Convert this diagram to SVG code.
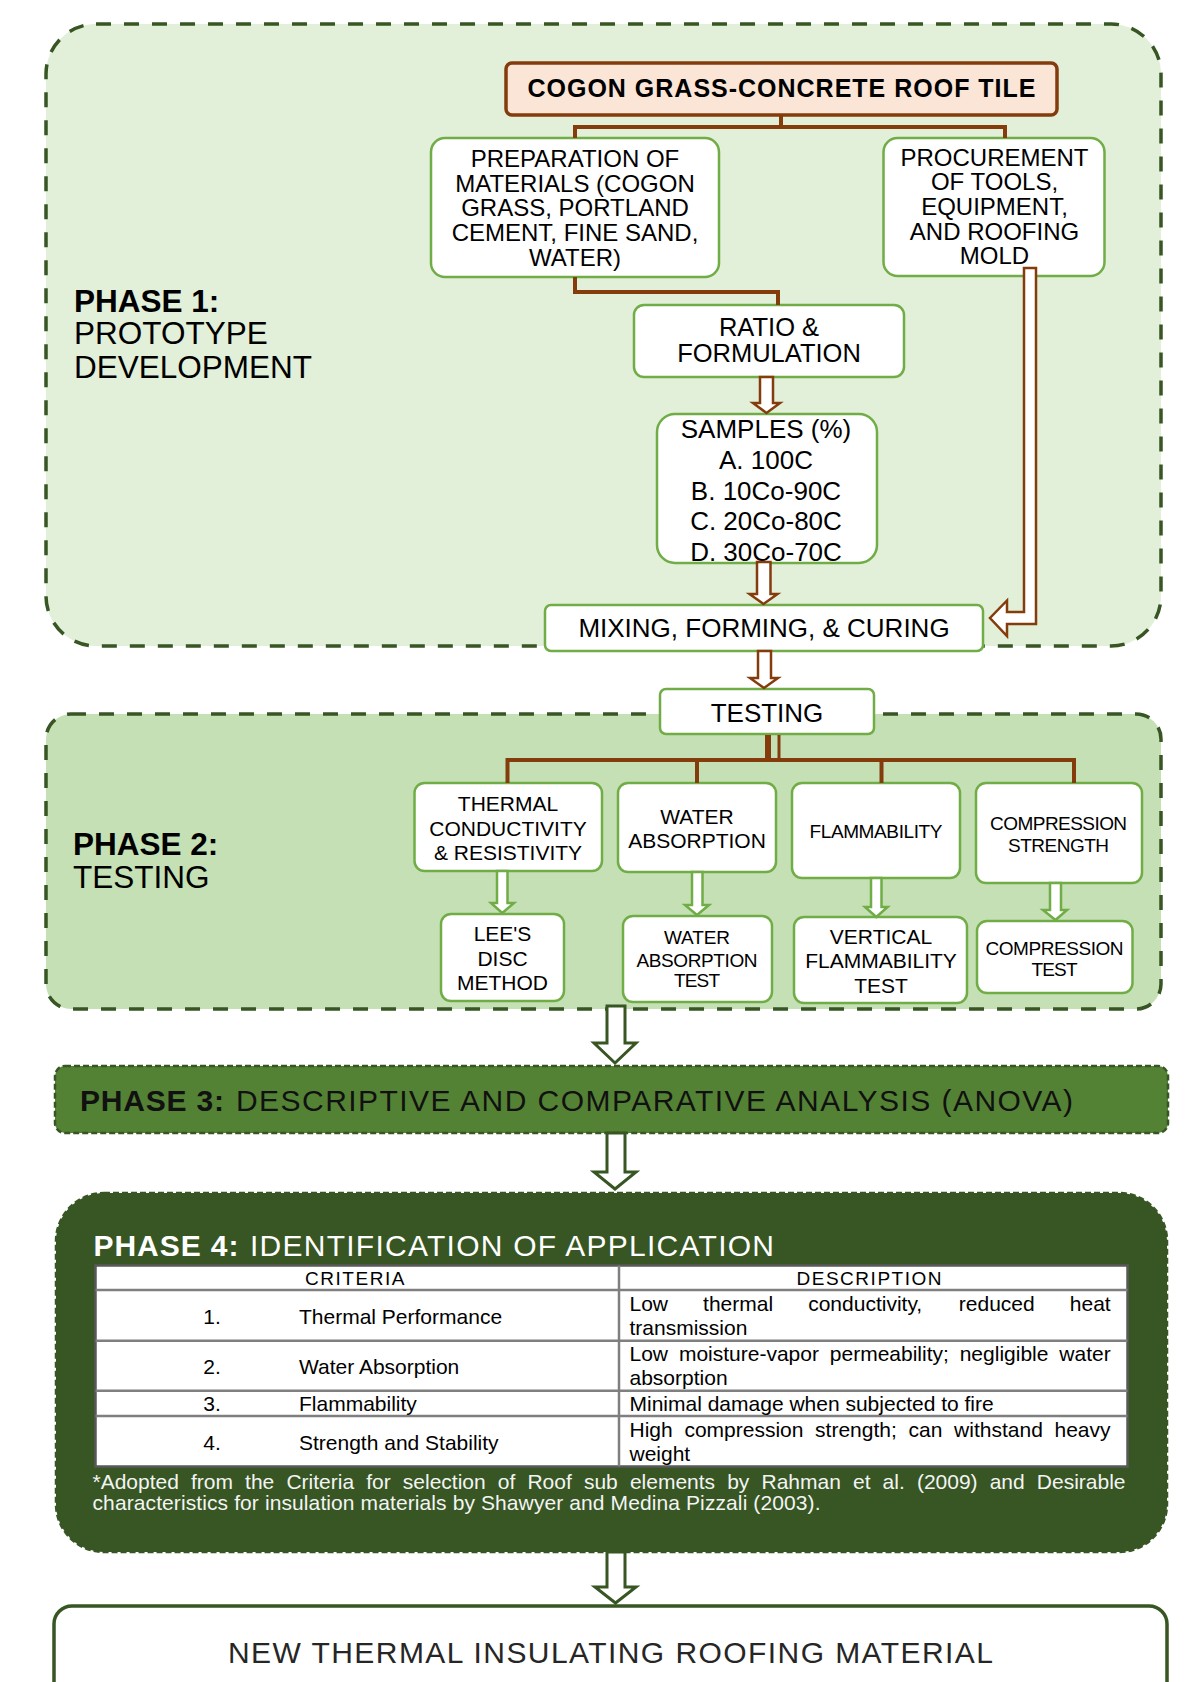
<svg xmlns="http://www.w3.org/2000/svg" width="1193" height="1682" viewBox="0 0 1193 1682">
<style>
text{font-family:"Liberation Sans",Arial,sans-serif;fill:#000}
.b{font-weight:bold}
.box{fill:#fff;stroke:#70ad47;stroke-width:2.5}
.phd{stroke:#375623;stroke-width:3.5;stroke-dasharray:15 13}
.tree{fill:none;stroke:#843c0c;stroke-width:4}
.ab{fill:#fff;stroke:#843c0c;stroke-width:2.5;stroke-linejoin:miter}
.ag{fill:#fff;stroke:#70ad47;stroke-width:2.5}
.ad{fill:#fff;stroke:#375623;stroke-width:3}
.c24{font-size:24px;text-anchor:middle}
.c26{font-size:26px;text-anchor:middle}
.c21{font-size:21px;text-anchor:middle}
.c19{font-size:19px;text-anchor:middle}
.ph{font-size:31.5px}
.tl{fill:#7f7f7f;stroke:#7f7f7f;stroke-width:2.5}
.t21{font-size:21px}
.w{fill:#f4f4f4}
</style>
<rect width="1193" height="1682" fill="#fff"/>

<g id="phase1">
<rect x="46" y="24" width="1115" height="622" rx="50" fill="#e2efd9" class="phd"/>
<text class="ph b" x="74" y="311.7">PHASE 1:</text>
<text class="ph" x="74" y="344.3">PROTOTYPE</text>
<text class="ph" x="74" y="377.7">DEVELOPMENT</text>
</g>

<g id="phase2">
<rect x="46" y="714" width="1115" height="295" rx="25" fill="#c5e0b4" class="phd"/>
<text class="ph b" x="73" y="855">PHASE 2:</text>
<text class="ph" x="73" y="888">TESTING</text>
</g>

<g id="phase3">
<rect x="55" y="1066" width="1113" height="67" rx="10" fill="#548235" stroke="#375623" stroke-width="2.5" stroke-dasharray="6 3"/>
<text class="b" x="80" y="1111" font-size="30" textLength="144" lengthAdjust="spacing" style="fill:#111">PHASE 3:</text>
<text x="236" y="1111" font-size="30" textLength="837" lengthAdjust="spacing" style="fill:#111">DESCRIPTIVE AND COMPARATIVE ANALYSIS (ANOVA)</text>
</g>

<g id="phase4">
<rect x="56" y="1193" width="1111" height="359" rx="48" fill="#375623" stroke="#375623" stroke-width="2.5" stroke-dasharray="6 3"/>
<text class="b" x="93.5" y="1256" font-size="30" textLength="145" lengthAdjust="spacing" style="fill:#fff">PHASE 4:</text>
<text x="250" y="1256" font-size="30" textLength="524" lengthAdjust="spacing" style="fill:#fff">IDENTIFICATION OF APPLICATION</text>
<g id="criteria-table">
<rect x="95.5" y="1265.5" width="1032" height="201" fill="#fff" stroke="#595959" stroke-width="2.5"/>
<path class="tl" fill="none" d="M95.5 1290H1127.5M95.5 1340.7H1127.5M95.5 1390.7H1127.5M95.5 1416H1127.5M619 1265.5V1466.5"/>
<text class="c19" x="354.7" y="1285" textLength="99.5" lengthAdjust="spacing">CRITERIA</text>
<text class="c19" x="869" y="1285" textLength="145" lengthAdjust="spacing">DESCRIPTION</text>
<text class="c21" x="212" y="1324">1.</text>
<text class="t21" x="299" y="1324">Thermal Performance</text>
<text class="c21" x="212" y="1374">2.</text>
<text class="t21" x="299" y="1374">Water Absorption</text>
<text class="c21" x="212" y="1411">3.</text>
<text class="t21" x="299" y="1411">Flammability</text>
<text class="c21" x="212" y="1450">4.</text>
<text class="t21" x="299" y="1450">Strength and Stability</text>
<text class="t21" y="1311"><tspan x="629.5">Low</tspan><tspan x="703.1">thermal</tspan><tspan x="808.2">conductivity,</tspan><tspan x="958.8">reduced</tspan><tspan x="1069.8">heat</tspan></text>
<text class="t21" x="629.5" y="1335">transmission</text>
<text class="t21" y="1361"><tspan x="629.5">Low</tspan><tspan x="678.9">moisture-vapor</tspan><tspan x="829.8">permeability;</tspan><tspan x="959.7">negligible</tspan><tspan x="1059.3">water</tspan></text>
<text class="t21" x="629.5" y="1385">absorption</text>
<text class="t21" x="629.5" y="1411">Minimal damage when subjected to fire</text>
<text class="t21" y="1437"><tspan x="629.5">High</tspan><tspan x="684.4">compression</tspan><tspan x="815.1">strength;</tspan><tspan x="908.5">can</tspan><tspan x="954.1">withstand</tspan><tspan x="1054.5">heavy</tspan></text>
<text class="t21" x="629.5" y="1461">weight</text>
</g>
<text class="t21 w" y="1489"><tspan x="92.5">*Adopted</tspan><tspan x="191">from</tspan><tspan x="245.1">the</tspan><tspan x="286.4">Criteria</tspan><tspan x="366.2">for</tspan><tspan x="402.8">selection</tspan><tspan x="497.8">of</tspan><tspan x="527.4">Roof</tspan><tspan x="583.9">sub</tspan><tspan x="629.9">elements</tspan><tspan x="727.2">by</tspan><tspan x="761.5">Rahman</tspan><tspan x="853">et</tspan><tspan x="882.6">al.</tspan><tspan x="916.9">(2009)</tspan><tspan x="989.7">and</tspan><tspan x="1036.8">Desirable</tspan></text>
<text class="t21 w" x="92.5" y="1510" textLength="728" lengthAdjust="spacing">characteristics for insulation materials by Shawyer and Medina Pizzali (2003).</text>
</g>

<g id="final">
<rect x="54" y="1606" width="1113" height="110" rx="18" fill="#fff" stroke="#375623" stroke-width="3.5"/>
<text x="228" y="1663" font-size="30" textLength="765" lengthAdjust="spacing" style="fill:#262626">NEW THERMAL INSULATING ROOFING MATERIAL</text>
</g>

<g id="n-title">
<rect x="506" y="63" width="551" height="52" rx="6" fill="#fbe5d6" stroke="#843c0c" stroke-width="3.5"/>
<text class="b" x="527.5" y="96.7" font-size="25" textLength="508" lengthAdjust="spacing">COGON GRASS-CONCRETE ROOF TILE</text>
</g>
<g id="n-prep">
<rect class="box" x="431" y="138" width="288" height="139" rx="14"/>
<text class="c24"><tspan x="575" y="166.8">PREPARATION OF</tspan><tspan x="575" y="191.5">MATERIALS (COGON</tspan><tspan x="575" y="216.2">GRASS, PORTLAND</tspan><tspan x="575" y="240.9">CEMENT, FINE SAND,</tspan><tspan x="575" y="265.6">WATER)</tspan></text>
</g>
<g id="n-proc">
<rect class="box" x="883.5" y="138" width="221" height="138" rx="14"/>
<text class="c24"><tspan x="994.5" y="165.6">PROCUREMENT</tspan><tspan x="994.5" y="190.3">OF TOOLS,</tspan><tspan x="994.5" y="215">EQUIPMENT,</tspan><tspan x="994.5" y="239.7">AND ROOFING</tspan><tspan x="994.5" y="264.4">MOLD</tspan></text>
</g>
<g id="n-ratio">
<rect class="box" x="634" y="305" width="270" height="72" rx="10"/>
<text class="c26" style="font-size:25.5px"><tspan x="769" y="335.7">RATIO &amp;</tspan><tspan x="769" y="362.4">FORMULATION</tspan></text>
</g>
<g id="n-samples">
<rect class="box" x="657" y="414" width="220" height="149" rx="18"/>
<text class="c26"><tspan x="766" y="438.3">SAMPLES (%)</tspan><tspan x="766" y="468.9">A. 100C</tspan><tspan x="766" y="499.5">B. 10Co-90C</tspan><tspan x="766" y="530.1">C. 20Co-80C</tspan><tspan x="766" y="560.7">D. 30Co-70C</tspan></text>
</g>
<g id="n-mixing">
<rect class="box" x="545" y="605" width="438" height="46" rx="6"/>
<text class="c26" x="764" y="637.3">MIXING, FORMING, &amp; CURING</text>
</g>
<g id="n-testing">
<rect class="box" x="660" y="689" width="214" height="45" rx="6"/>
<text class="c26" x="767" y="721.7">TESTING</text>
</g>
<g id="n-thermal">
<rect class="box" x="414.5" y="783" width="187.5" height="88" rx="10"/>
<text class="c21"><tspan x="508" y="811">THERMAL</tspan><tspan x="508" y="835.5">CONDUCTIVITY</tspan><tspan x="508" y="860">&amp; RESISTIVITY</tspan></text>
</g>
<g id="n-water">
<rect class="box" x="618" y="783" width="158" height="89" rx="10"/>
<text class="c21"><tspan x="697" y="824.3">WATER</tspan><tspan x="697" y="847.7">ABSORPTION</tspan></text>
</g>
<g id="n-flamm">
<rect class="box" x="792" y="783" width="168" height="95" rx="10"/>
<text class="c19" x="876" y="838.3" textLength="133" lengthAdjust="spacing">FLAMMABILITY</text>
</g>
<g id="n-compr">
<rect class="box" x="976" y="783" width="166" height="100" rx="10"/>
<text class="c19" x="1058.6" y="830" textLength="137" lengthAdjust="spacing">COMPRESSION</text>
<text class="c19" x="1058.6" y="851.7" textLength="101" lengthAdjust="spacing">STRENGTH</text>
</g>
<g id="n-lees">
<rect class="box" x="441" y="914" width="123" height="87" rx="10"/>
<text class="c21"><tspan x="502.5" y="941">LEE'S</tspan><tspan x="502.5" y="965.7">DISC</tspan><tspan x="502.5" y="990">METHOD</tspan></text>
</g>
<g id="n-watertest">
<rect class="box" x="623" y="916" width="149" height="86" rx="10"/>
<text class="c19" x="697" y="944.3" textLength="66" lengthAdjust="spacing">WATER</text>
<text class="c19" x="697" y="966.7" textLength="121" lengthAdjust="spacing">ABSORPTION</text>
<text class="c19" x="697" y="987.3" textLength="46" lengthAdjust="spacing">TEST</text>
</g>
<g id="n-vertical">
<rect class="box" x="794" y="917" width="173" height="86" rx="10"/>
<text class="c21"><tspan x="881" y="944">VERTICAL</tspan><tspan x="881" y="968.3">FLAMMABILITY</tspan><tspan x="881" y="992.7">TEST</tspan></text>
</g>
<g id="n-comptest">
<rect class="box" x="977" y="921" width="155.5" height="72" rx="10"/>
<text class="c19" x="1054.5" y="955" textLength="138" lengthAdjust="spacing">COMPRESSION</text>
<text class="c19" x="1054.5" y="976" textLength="46" lengthAdjust="spacing">TEST</text>
</g>

<g id="connectors">
<path class="tree" d="M781 115V127M575 127H1005M575 125V138M1005 125V138"/>
<path class="tree" d="M575 277V292H778V305"/>
<path fill="none" stroke="#843c0c" stroke-width="6" d="M768 735V760"/>
<path fill="none" stroke="#843c0c" stroke-width="3" d="M779 735V760"/>
<path class="tree" d="M507.5 760H1074M507.5 758V783M697 758V783M881.5 758V783M1074 758V783"/>
<polygon class="ab" points="760,377 773,377 773,403 780,403 766.5,413 753,403 760,403"/>
<polygon class="ab" points="757,562 770.5,562 770.5,594 777.5,594 763.5,604 749.5,594 757,594"/>
<polygon class="ab" points="758,651 771,651 771,678 778,678 764,688 750,678 758,678"/>
<polygon class="ab" points="1024,268 1036,268 1036,624 1007,624 1007,636 990,618 1007,600.5 1007,612 1024,612"/>
<polygon class="ag" points="497,871 507.5,871 507.5,903 514,903 502.3,913 491,903 497,903"/>
<polygon class="ag" points="692,872 702.5,872 702.5,905 709,905 697,915 685,905 692,905"/>
<polygon class="ag" points="871,878 881.5,878 881.5,907 887.6,907 876.3,917 865,907 871,907"/>
<polygon class="ag" points="1050,883 1061,883 1061,910 1067,910 1055.5,920 1043,910 1050,910"/>
<polygon class="ad" points="607,1006 625,1006 625,1043 636,1043 615,1063 594,1043 607,1043"/>
<polygon class="ad" points="607,1133 625,1133 625,1172 636,1172 615,1189 594,1172 607,1172"/>
<polygon class="ad" points="607,1552 625,1552 625,1587 636,1587 615.5,1603 595,1587 607,1587"/>
</g>
</svg>
